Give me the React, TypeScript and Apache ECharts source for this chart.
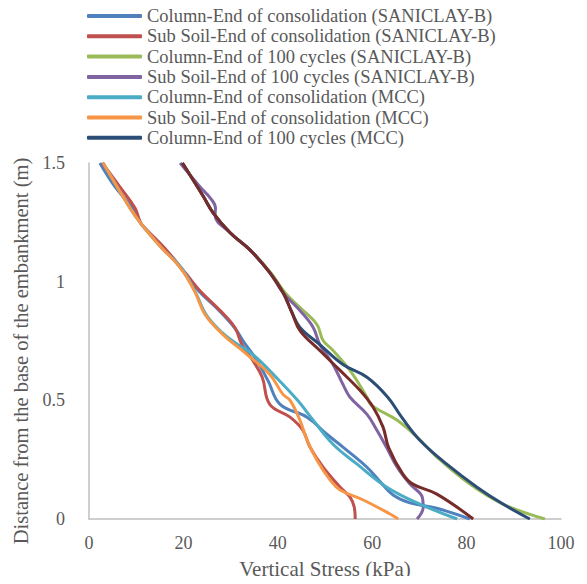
import React, { useEffect, useRef } from "react";
import * as echarts from "echarts";

type P = [number, number];

const seriesNames = [
  "Column-End of consolidation (SANICLAY-B)",
  "Sub Soil-End of consolidation (SANICLAY-B)",
  "Column-End of 100 cycles (SANICLAY-B)",
  "Sub Soil-End of 100 cycles (SANICLAY-B)",
  "Column-End of consolidation (MCC)",
  "Sub Soil-End of consolidation (MCC)",
  "Column-End of 100 cycles (MCC)",
  "Sub Soil-End of 100 cycles (MCC)",
];
const legendNames = seriesNames.slice(0, 7);

const colors = ["#4F81BD", "#C0504D", "#9BBB59", "#8064A2", "#4BACC6", "#F79646", "#2C4D75", "#772C2A"];

const colConsSB: P[] = [
  [2.3, 1.5], [5.5, 1.4], [9.2, 1.31], [11.2, 1.24], [16, 1.14], [20.5, 1.03], [23.3, 0.96],
  [27.6, 0.878], [30.8, 0.807], [33, 0.74], [35.2, 0.68], [37.9, 0.584], [40.5, 0.483],
  [46.2, 0.429], [50.4, 0.357], [53.8, 0.303], [58.9, 0.218], [62, 0.15], [64.5, 0.1],
  [68, 0.068], [73.7, 0.045], [80.7, 0],
];
const subConsSB: P[] = [
  [2.8, 1.5], [6.5, 1.4], [9.75, 1.31], [10.6, 1.265], [11.2, 1.24], [16.1, 1.14], [20.7, 1.03],
  [23.5, 0.962], [27.8, 0.878], [30.9, 0.807], [32.4, 0.735], [34.7, 0.668], [36.7, 0.597],
  [38.3, 0.483], [42.6, 0.429], [45.3, 0.374], [46.8, 0.303], [49.6, 0.218], [53.2, 0.134],
  [55.3, 0.092], [56.2, 0.05], [56.4, 0],
];
const col100SB: P[] = [
  [19.8, 1.5], [24.2, 1.36], [26.3, 1.29], [29.9, 1.206], [34.1, 1.134], [38.5, 1.038],
  [41.5, 0.954], [44.7, 0.891], [48.3, 0.819], [49.6, 0.752], [51.7, 0.71], [55.3, 0.626],
  [58.9, 0.513], [59.8, 0.48], [65.3, 0.416], [69.5, 0.345], [73.7, 0.261], [80.7, 0.147],
  [87.7, 0.063], [96.6, 0],
];
const sub100SB: P[] = [
  [19.3, 1.5], [23.5, 1.4], [26, 1.345], [26.8, 1.31], [26.7, 1.28], [29.9, 1.206], [34.1, 1.134],
  [38.3, 1.038], [41.1, 0.954], [44.7, 0.878], [47.5, 0.807], [48.9, 0.735], [51.7, 0.651],
  [53.8, 0.567], [55.3, 0.513], [58.9, 0.441], [61, 0.374], [63, 0.303], [65.3, 0.218],
  [68, 0.147], [70.6, 0.092], [70.8, 0.05], [69.5, 0],
];
const colConsMCC: P[] = [
  [3, 1.5], [8.7, 1.31], [11.2, 1.24], [15.5, 1.14], [19.5, 1.06], [22.6, 0.954], [24.8, 0.861],
  [28.2, 0.785], [31.2, 0.74], [34.7, 0.693], [39.5, 0.6], [44.2, 0.5], [47.5, 0.416],
  [51.7, 0.315], [56.8, 0.231], [63.1, 0.134], [70.1, 0.063], [78, 0],
];
const subConsMCC: P[] = [
  [3, 1.5], [8.7, 1.31], [11.2, 1.24], [15.5, 1.14], [19.3, 1.06], [22.5, 0.954], [24.6, 0.861],
  [28.4, 0.777], [33.5, 0.693], [38.3, 0.609], [41.1, 0.525], [42.6, 0.5], [44.7, 0.416],
  [46.2, 0.332], [48.3, 0.248], [51.1, 0.164], [53.2, 0.122], [58.1, 0.08], [63.8, 0.021],
  [65.5, 0],
];
const col100MCC: P[] = [
  [19.8, 1.5], [24.2, 1.36], [26.3, 1.29], [29.9, 1.206], [34.1, 1.134], [38.3, 1.038],
  [41.1, 0.954], [43, 0.87], [44.7, 0.807], [48.9, 0.735], [53.8, 0.651], [58.9, 0.597],
  [63.3, 0.513], [66.2, 0.43], [70.1, 0.332], [75.8, 0.231], [82.2, 0.134], [87.7, 0.063],
  [93.4, 0],
];
const sub100MCC: P[] = [
  [19.8, 1.5], [24.2, 1.36], [26.3, 1.29], [29.9, 1.206], [34.1, 1.134], [38.3, 1.038],
  [41.1, 0.954], [43, 0.87], [44.7, 0.794], [48.9, 0.71], [53.2, 0.626], [57.4, 0.542],
  [60.2, 0.471], [62.3, 0.387], [63.5, 0.3], [66.5, 0.189], [68.6, 0.147], [73.7, 0.105],
  [81.4, 0],
];

const allData = [colConsSB, subConsSB, col100SB, sub100SB, colConsMCC, subConsMCC, col100MCC, sub100MCC];

const font = "'Liberation Serif', 'Times New Roman', serif";

export default function App() {
  const ref = useRef<HTMLDivElement>(null);
  useEffect(() => {
    if (!ref.current) return;
    const chart = echarts.init(ref.current, undefined, { renderer: "svg" });
    chart.setOption({
      animation: false,
      textStyle: { fontFamily: font },
      legend: {
        data: legendNames,
        orient: "vertical",
        left: 87,
        top: 6,
        padding: 0,
        icon: "roundRect",
        itemWidth: 55,
        itemHeight: 4,
        itemGap: 0.3,
        textStyle: { fontFamily: font, fontSize: 18.5, color: "#595959", lineHeight: 20 },
      },
      grid: { left: 89, right: 26, top: 163, bottom: 62, containLabel: false },
      xAxis: {
        type: "value",
        min: 0,
        max: 100,
        interval: 20,
        name: "Vertical Stress (kPa)",
        nameLocation: "middle",
        nameGap: 39,
        nameTextStyle: { fontFamily: font, fontSize: 21, color: "#595959" },
        axisLine: { show: true, lineStyle: { color: "#BFBFBF", width: 1.5 } },
        axisTick: { show: false },
        splitLine: { show: false },
        axisLabel: { fontFamily: font, fontSize: 18, color: "#595959", margin: 15 },
      },
      yAxis: {
        type: "value",
        min: 0,
        max: 1.5,
        interval: 0.5,
        name: "Distance from the base of the embankment (m)",
        nameLocation: "middle",
        nameGap: 56,
        nameTextStyle: { fontFamily: font, fontSize: 20.5, color: "#595959", padding: [0, 20, 0, 0] },
        axisLine: { show: true, lineStyle: { color: "#BFBFBF", width: 1.5 } },
        axisTick: { show: false },
        splitLine: { show: false },
        axisLabel: { fontFamily: font, fontSize: 18, color: "#595959", margin: 24 },
      },
      series: allData.map((d, i) => ({
        name: seriesNames[i],
        type: "line",
        data: d,
        smooth: 0.4,
        showSymbol: false,
        symbol: "none",
        lineStyle: { color: colors[i], width: 3 },
        itemStyle: { color: colors[i] },
      })),
    });
    return () => chart.dispose();
  }, []);
  return <div ref={ref} style={{ width: 587, height: 584, margin: -8 }} />;
}
